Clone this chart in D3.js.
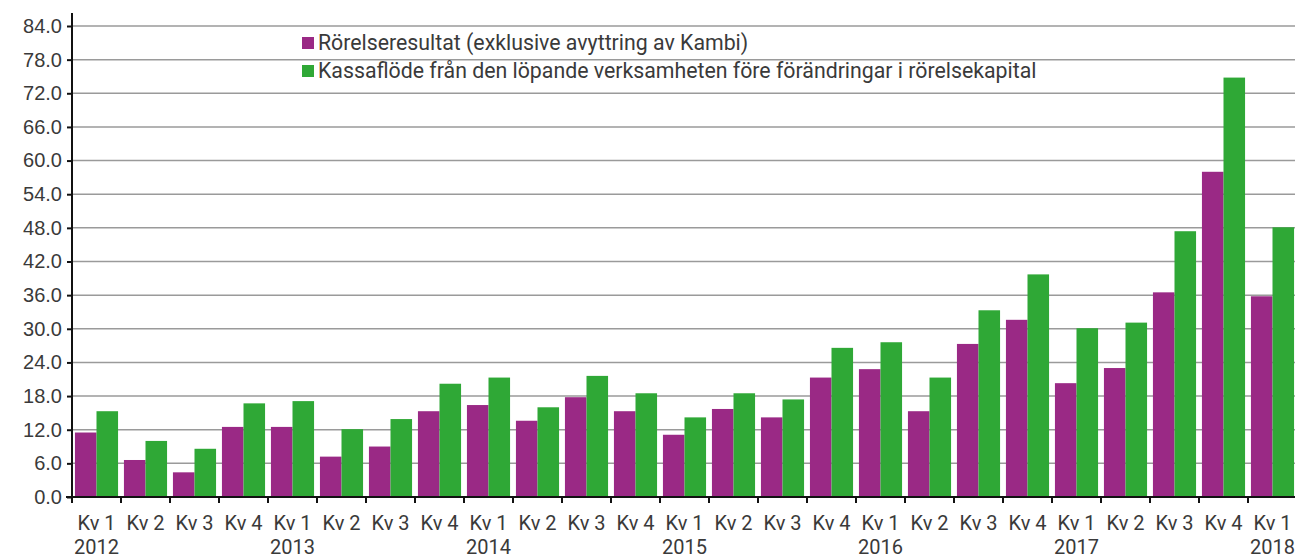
<!DOCTYPE html>
<html>
<head>
<meta charset="utf-8">
<script src="https://cdn.jsdelivr.net/npm/d3@7"></script>
<style>
  body { margin: 0; background: #fff; }
  svg { display: block; font-family: Roboto, sans-serif; }
  .axis text { fill: #3a3a3a; font-size: 20px; }
  .legend text { fill: #3a3a3a; font-size: 21.3px; }
</style>
</head>
<body>
<svg id="chart"></svg>
<script>
// Quarter labels along the x axis, 2012 Kv 1 .. 2018 Kv 1
const quarterLabels = [
  'Kv 1','Kv 2','Kv 3','Kv 4', 'Kv 1','Kv 2','Kv 3','Kv 4',
  'Kv 1','Kv 2','Kv 3','Kv 4', 'Kv 1','Kv 2','Kv 3','Kv 4',
  'Kv 1','Kv 2','Kv 3','Kv 4', 'Kv 1','Kv 2','Kv 3','Kv 4',
  'Kv 1'
];
// Year shown under each Kv 1
const yearLabels = [
  '2012','','','', '2013','','','', '2014','','','', '2015','','','',
  '2016','','','', '2017','','','', '2018'
];
const seriesNames = [
  'Rörelseresultat (exklusive avyttring av Kambi)',
  'Kassaflöde från den löpande verksamheten före förändringar i rörelsekapital'
];
const rorelseresultat = [
  11.5, 6.6, 4.4, 12.5, 12.5, 7.2, 9.0, 15.3, 16.4, 13.6, 17.8, 15.3,
  11.1, 15.7, 14.2, 21.3, 22.8, 15.3, 27.3, 31.6, 20.3, 23.0, 36.5, 58.0, 35.8
];
const kassaflode = [
  15.3, 10.0, 8.6, 16.7, 17.1, 12.1, 13.9, 20.2, 21.3, 16.0, 21.6, 18.5,
  14.2, 18.5, 17.4, 26.6, 27.6, 21.3, 33.3, 39.7, 30.1, 31.1, 47.4, 74.8, 48.1
];
const yTicks = [0, 6, 12, 18, 24, 30, 36, 42, 48, 54, 60, 66, 72, 78, 84];
const colors = ['#9a2985', '#2fa836'];

class GroupedBarchart {

  constructor(_config) {
    this.config = {
      parentElement: _config.parentElement,
      containerWidth: _config.containerWidth || 1295,
      containerHeight: _config.containerHeight || 558,
      margin: _config.margin || {top: 26, right: 0, bottom: 61, left: 72},
      step: _config.step || 49
    }
    this.initVis();
  }

  initVis() {
    let vis = this;

    vis.height = vis.config.containerHeight - vis.config.margin.top - vis.config.margin.bottom;
    // plot runs past the right edge of the picture, last bar gets clipped
    vis.width = vis.config.step * quarterLabels.length;

    vis.svg = d3.select(vis.config.parentElement)
        .attr('width', vis.config.containerWidth)
        .attr('height', vis.config.containerHeight);

    vis.chart = vis.svg.append('g')
        .attr('transform', `translate(${vis.config.margin.left},${vis.config.margin.top})`);

    vis.xScale = d3.scaleBand()
        .domain(d3.range(quarterLabels.length))
        .range([0, vis.width])
        .paddingInner(0.12)
        .paddingOuter(0.06);

    vis.xSub = d3.scaleBand()
        .domain([0, 1])
        .range([0, vis.xScale.bandwidth()]);

    vis.yScale = d3.scaleLinear()
        .domain([0, 84])
        .range([vis.height, 0]);

    vis.gridG = vis.chart.append('g').attr('class', 'grid');
    vis.barsG = vis.chart.append('g').attr('class', 'bars');
    vis.yAxisG = vis.chart.append('g').attr('class', 'axis y-axis');
    vis.xAxisG = vis.chart.append('g')
        .attr('class', 'axis x-axis')
        .attr('transform', `translate(0,${vis.height})`);
    vis.legendG = vis.svg.append('g').attr('class', 'legend');
  }

  updateVis() {
    let vis = this;
    vis.data = quarterLabels.map((q, i) => ({
      i: i,
      values: [rorelseresultat[i], kassaflode[i]]
    }));
    vis.renderVis();
  }

  renderVis() {
    let vis = this;

    // horizontal gridlines
    vis.gridG.selectAll('line')
        .data(yTicks)
      .join('line')
        .attr('x1', 0)
        .attr('x2', vis.width)
        .attr('y1', d => vis.yScale(d))
        .attr('y2', d => vis.yScale(d))
        .attr('stroke', '#9a9a9a')
        .attr('stroke-width', 1.5);

    // bars
    let groups = vis.barsG.selectAll('g')
        .data(vis.data)
      .join('g')
        .attr('transform', d => `translate(${vis.xScale(d.i)},0)`);

    groups.selectAll('rect')
        .data(d => d.values.map((v, k) => ({k, v})))
      .join('rect')
        .attr('x', d => vis.xSub(d.k))
        .attr('width', vis.xSub.bandwidth())
        .attr('y', d => vis.yScale(d.v))
        .attr('height', d => vis.height - vis.yScale(d.v))
        .attr('fill', d => colors[d.k]);

    // y axis
    vis.yAxis = d3.axisLeft(vis.yScale)
        .tickValues(yTicks)
        .tickFormat(d3.format('.1f'))
        .tickSize(5)
        .tickPadding(5)
        .tickSizeOuter(0);
    vis.yAxisG.call(vis.yAxis);
    vis.yAxisG.select('.domain').remove();
    vis.yAxisG.selectAll('.tick line').attr('stroke', '#111').attr('stroke-width', 2);
    vis.yAxisG.append('line')
        .attr('x1', 0).attr('x2', 0)
        .attr('y1', -13).attr('y2', vis.height + 1)
        .attr('stroke', '#111')
        .attr('stroke-width', 2);

    // x axis: line + ticks at category boundaries + two rows of labels
    vis.xAxisG.selectAll('*').remove();
    vis.xAxisG.append('line')
        .attr('x1', -6).attr('x2', vis.width)
        .attr('stroke', '#111')
        .attr('stroke-width', 2);
    let step = vis.xScale.step();
    vis.xAxisG.selectAll('.xtick')
        .data(d3.range(quarterLabels.length + 1))
      .join('line')
        .attr('class', 'xtick')
        .attr('x1', d => d * step).attr('x2', d => d * step)
        .attr('y1', 0).attr('y2', 6)
        .attr('stroke', '#111')
        .attr('stroke-width', 2);
    vis.xAxisG.selectAll('.qlabel')
        .data(quarterLabels)
      .join('text')
        .attr('class', 'qlabel')
        .attr('x', (d, i) => vis.xScale(i) + vis.xScale.bandwidth() / 2)
        .attr('y', 33)
        .attr('text-anchor', 'middle')
        .text(d => d);
    vis.xAxisG.selectAll('.ylabel')
        .data(yearLabels)
      .join('text')
        .attr('class', 'ylabel')
        .attr('x', (d, i) => vis.xScale(i) + vis.xScale.bandwidth() / 2)
        .attr('y', 57)
        .attr('text-anchor', 'middle')
        .text(d => d);

    // legend
    let items = vis.legendG.selectAll('g')
        .data(seriesNames)
      .join('g')
        .attr('transform', (d, i) => `translate(302,${37 + i * 28})`);
    items.append('rect')
        .attr('width', 12)
        .attr('height', 12)
        .attr('fill', (d, i) => colors[i]);
    items.append('text')
        .attr('x', 16)
        .attr('y', 13)
        .text(d => d);
  }
}

const chart = new GroupedBarchart({parentElement: '#chart'});
chart.updateVis();
</script>
</body>
</html>
